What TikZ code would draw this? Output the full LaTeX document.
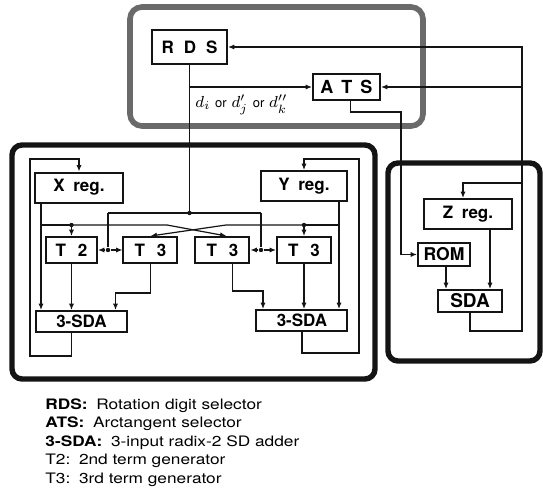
\documentclass[tikz,border=0pt]{standalone}
\usepackage{fontspec}
\setmainfont{TeX Gyre Heros}
\usetikzlibrary{arrows.meta,positioning}
\definecolor{crInk}{HTML}{141414}
\definecolor{crGrey}{HTML}{6A6A6A}
\tikzset{
  blk/.style     ={draw=crInk,line width=1pt,fill=white,inner sep=1pt,
                   font=\bfseries\fontsize{8.5}{9}\selectfont},
  regbox/.style  ={blk,minimum width=44pt,minimum height=15pt},
  tbox/.style    ={blk,minimum width=27pt,minimum height=13pt},
  addbox/.style  ={blk,minimum width=45.5pt,minimum height=10.5pt},
  wire/.style    ={crInk,line width=0.6pt},
  flow/.style    ={wire,-{Latex[length=3.2pt,width=2.6pt]}},
  jdot/.style    ={circle,fill=crInk,inner sep=0pt,minimum size=2.2pt},
  unitframe/.style={draw=crInk,line width=2.7pt,rounded corners=5pt},
  selframe/.style={draw=crGrey,line width=2.8pt,rounded corners=6pt},
  lbl/.style     ={font=\fontsize{8.5}{9}\selectfont,inner sep=1pt},
  lgd/.style     ={font=\fontsize{7.2}{9.25}\selectfont,inner sep=0pt},
}
\newcommand{\widetext}[1]{\scalebox{1.2}[1]{#1}}
\begin{document}
\begin{tikzpicture}[x=0.5pt,y=-0.5pt]
\useasboundingbox (0,0) rectangle (543,504);
%% frames
\draw[selframe]  (130,7)   rectangle (423,126);
\draw[unitframe] (12,145)  rectangle (375,379);
\draw[unitframe] (388,163) rectangle (540,361);

%% selectors
\node[blk,minimum width=37.5pt,minimum height=17pt] (rds) at (189.5,47) {R\hspace{5pt}D\hspace{5pt}S};
\node[blk,minimum width=33.5pt,minimum height=13pt,font=\bfseries\fontsize{9}{9}\selectfont]
  (ats) at (346.5,87) {A\hspace{4pt}T\hspace{4pt}S};
\node[lbl,anchor=west] (dlbl) at (193,105)
  {$d_i$ {\fontsize{6.5}{7}\selectfont or} $d_j'$ {\fontsize{6.5}{7}\selectfont or} $d_k''$};

%% x/y unit
\node[regbox] (xreg) at (79,187.5) {X\enspace reg.};
\node[regbox,minimum width=43pt] (yreg) at (304,186) {Y\enspace reg.};
\node[tbox,minimum width=25.5pt] (t2) at (71.5,250) {T\hspace{6pt}2};
\node[tbox] (t3a) at (150.5,250) {T\hspace{6pt}3};
\node[tbox] (t3b) at (222.5,250) {T\hspace{6pt}3};
\node[tbox] (t3c) at (304,250)   {T\hspace{6pt}3};
\node[addbox] (sdal) at (81.5,321.5) {3-SDA};
\node[addbox] (sdar) at (302,320.5)  {3-SDA};

%% z unit
\node[regbox] (zreg) at (468,214) {Z\enspace reg.};
\node[blk,minimum width=26pt,minimum height=11.5pt,font=\bfseries\fontsize{8.8}{9}\selectfont]
  (rom) at (444,254.5) {ROM};
\node[blk,minimum width=32pt,minimum height=11pt,font=\bfseries\fontsize{9.5}{10}\selectfont]
  (sda) at (470,301) {SDA};

%% rotation digit
\coordinate (dbus) at (rds.south |- 0,213);
\coordinate (dl) at (108,213);
\coordinate (dr) at (261,213);
\draw[wire] (rds.south) -- (dbus);
\draw[flow] (rds.south |- ats.west) -- (ats.west);
\draw[wire] (dl) -- (dr);
\node[jdot] at (dbus) {};
\node[jdot] (jl) at (dl |- t2.east) {};
\node[jdot] (jr) at (dr |- t3b.east) {};
\draw[wire] (dl) -- (jl);
\draw[wire] (dr) -- (jr);
\draw[flow] (jl) -- (t2.east);
\draw[flow] (jl) -- (t3a.west);
\draw[flow] (jr) -- (t3b.east);
\draw[flow] (jr) -- (t3c.west);

%% x and y buses
\coordinate (xo) at ([xshift=-19pt]xreg.south);
\coordinate (yo) at ([xshift=17.5pt]yreg.south);
\coordinate (xk) at (167,225);
\coordinate (yk) at (226,225);
\draw[flow] (xo) -- (xo |- sdal.north);
\draw[flow] (xo |- xk) -| (t2.north);
\draw[flow] (t2.north |- xk) -- (xk) -- ([xshift=2pt]t3b.north);
\draw[flow] (yo) -- (yo |- sdar.north);
\draw[flow] (yo |- yk) -| (t3c.north);
\draw[flow] (t3c.north |- yk) -- (yk) -- (t3a.north);
\node[jdot] at (t2.north |- xk) {};
\node[jdot] at (t3c.north |- yk) {};

%% terms into adders
\draw[flow] (t2.south) -- (t2.south |- sdal.north);
\draw[flow] (t3a.south) -- ++(0,29) -| ([xshift=17pt]sdal.north);
\draw[flow] ([xshift=5pt]t3b.south) -- ++(0,27) -| ([xshift=-19.5pt]sdar.north);
\draw[flow] (t3c.south) -- (t3c.south |- sdar.north);

%% feedback
\coordinate (xfb) at (30,159);
\coordinate (yfb) at (359,159);
\draw[flow] ([xshift=-5pt]sdal.south) -- ++(0,23) -| (xfb) -| (xreg.north);
\draw[flow] (sdar.south) -- ++(0,21) -| (yfb) -| (yreg.north);

%% z path
\coordinate (zr) at (522,0);
\coordinate (zt) at (463,183);
\coordinate (ar) at (401,112);
\draw[flow] (sda.south) -- ++(0,18) -| (zr |- rds.east) -- (rds.east);
\draw[flow] (zr |- ats.east) -- (ats.east);
\draw[flow] (zr |- zt) -- (zt) -- (zt |- zreg.north);
\draw[flow] ([xshift=2pt]ats.south) |- (ar) |- (rom.west);
\draw[flow] ([xshift=1pt]rom.south) -- ([xshift=1pt]rom.south |- sda.north);
\draw[flow] ([xshift=11pt]zreg.south) -- ([xshift=11pt]zreg.south |- sda.north);

%% legend
\node[lgd,anchor=north west] (legend) at (45,396) {\widetext{\begin{tabular}{@{}l@{}}
\textbf{RDS:}\enspace Rotation digit selector\\
\textbf{ATS:}\enspace Arctangent selector\\
\textbf{3-SDA:}\enspace 3-input radix-2 SD adder\\
T2:\enspace 2nd term generator\\
T3:\enspace 3rd term generator
\end{tabular}}};
\end{tikzpicture}
\end{document}
